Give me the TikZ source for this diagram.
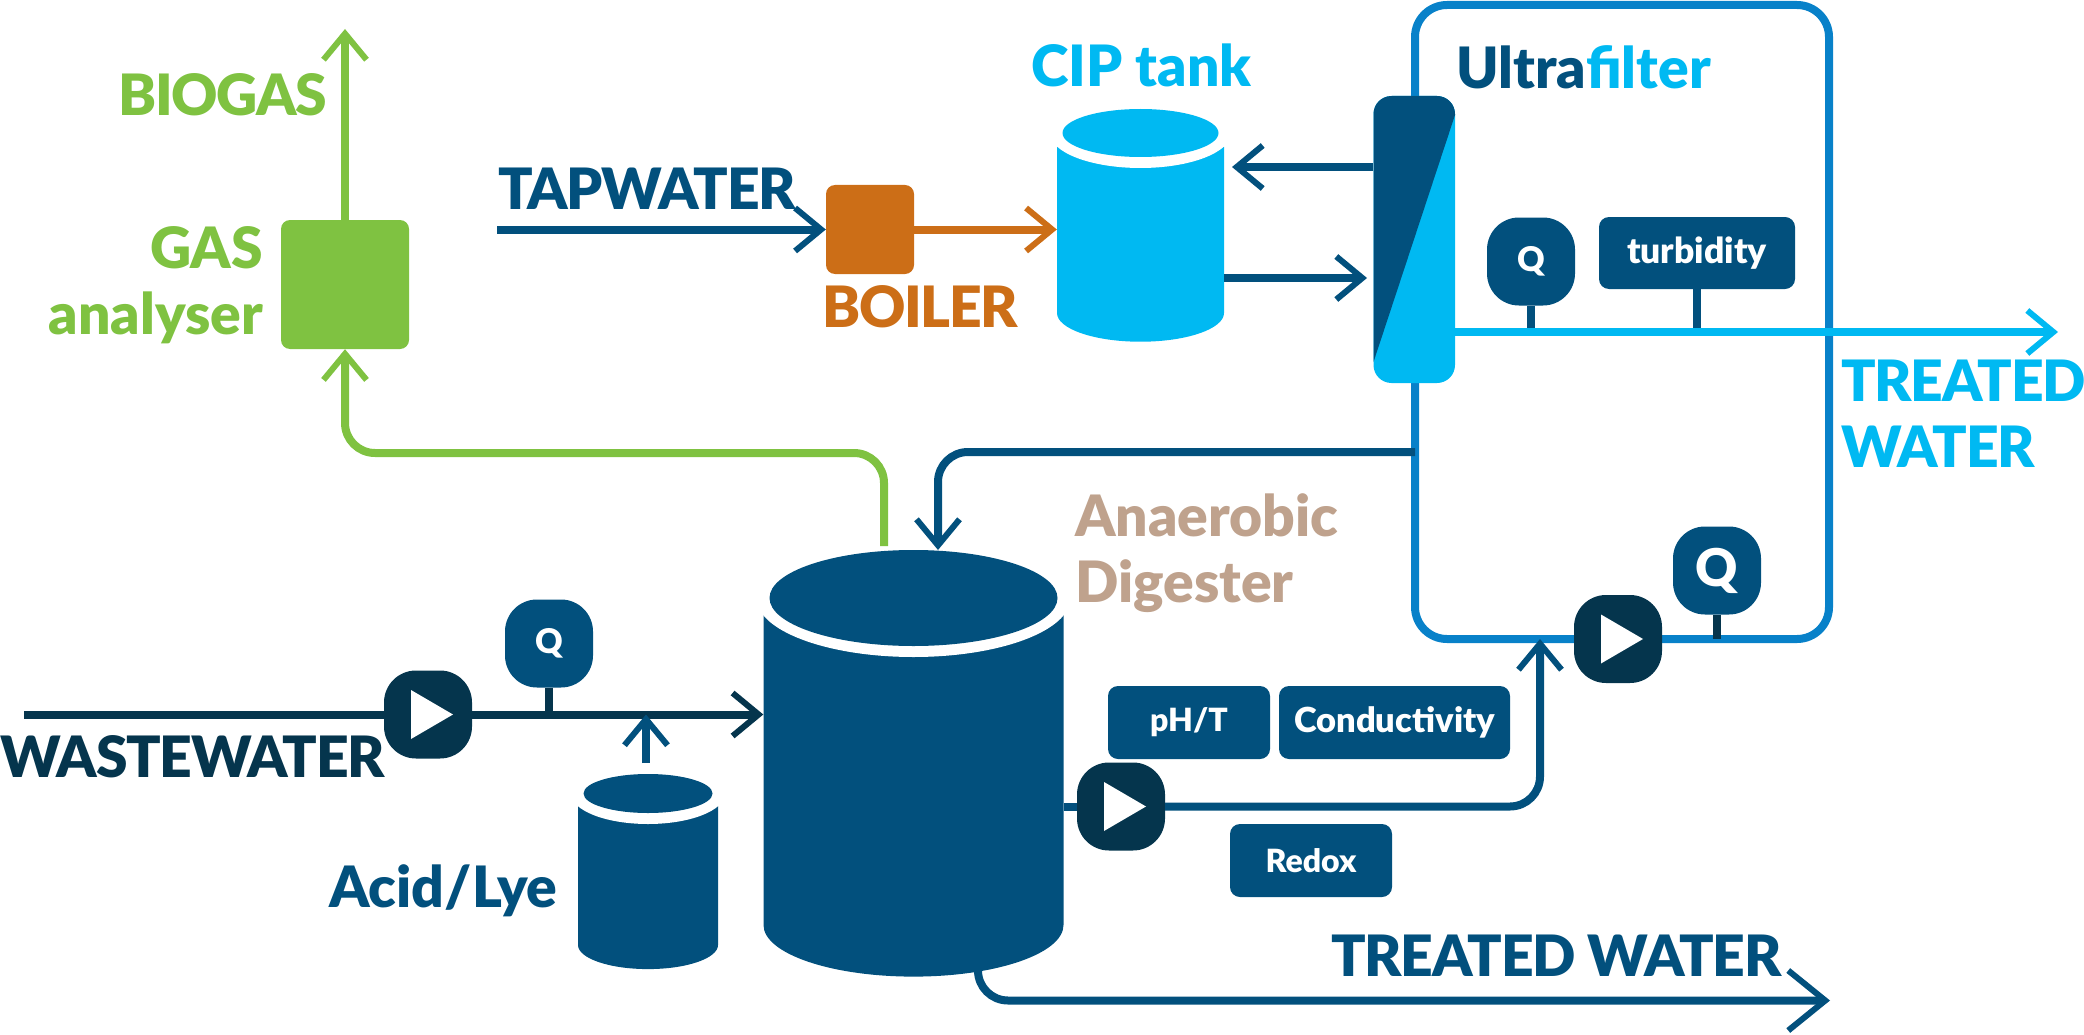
\documentclass[tikz,border=0pt]{standalone}
\usepackage{fontspec}
\setmainfont{Lato}[BoldFont={Lato Black}]
\usetikzlibrary{arrows.meta,positioning}
\definecolor{navy}{HTML}{02507D}
\definecolor{deep}{HTML}{05354D}
\definecolor{sky}{HTML}{00B9F2}
\definecolor{ufblue}{HTML}{0881C9}
\definecolor{gasgreen}{HTML}{7FC241}
\definecolor{boil}{HTML}{CC6E17}
\definecolor{sand}{HTML}{BFA28D}
\newcommand{\bigfont}{\fontsize{57}{66}\selectfont\bfseries}
\newcommand{\capsfont}{\bigfont\addfontfeature{LetterSpace=-2.2}}
\newcommand{\tagfont}{\fontsize{32}{36}\selectfont\bfseries}
% name, colour, centre x, lid y, lid rx, lid ry, half width, shoulder y, floor y
\newcommand{\tank}[9]{
  \fill[#2] (#3-#7,#8) -- (#3+#7,#8) -- (#3+#7,#9) arc[start angle=0, end angle=180, x radius=#7, y radius=0.344*#7] -- cycle;
  \fill[white] (#3,#4) ellipse[x radius=#7+7, y radius=#6+11];
  \fill[#2] (#3,#4) ellipse[x radius=#5, y radius=#6];
  \node[inner sep=0pt, minimum width=2*#7, minimum height=#9+0.344*#7-#4+#6] (#1) at (#3,{(#4-#6+#9+0.344*#7)/2}) {};
}

\begin{document}
\begin{tikzpicture}[x=1pt, y=-1pt,
  lbl/.style={inner sep=0pt, font=\bigfont},
  capslbl/.style={inner sep=0pt, font=\capsfont},
  arr/.style={-{Straight Barb[length=26pt, width=43pt, line width=6pt]}, line width=8pt},
  bigarr/.style={-{Straight Barb[length=37pt, width=60pt, line width=6pt]}, line width=8pt},
  stem/.style={line width=8pt},
  block/.style={inner sep=0pt, rounded corners=9pt, fill=#1},
  tagbox/.style={fill=navy, text=white, font=\tagfont, inner sep=0pt, rounded corners=10pt},
  flow/.style={fill=navy, text=white, font=\fontsize{34}{36}\selectfont\bfseries, inner sep=0pt,
               rounded corners=32pt, minimum width=88pt, minimum height=88pt},
  pump/.style={fill=deep, inner sep=0pt, rounded corners=32pt, minimum width=88pt, minimum height=88pt,
               path picture={\fill[white, sharp corners] (path picture bounding box.center) +(-17,-24.5) -- +(25,0) -- +(-17,24.5) -- cycle;}}
]
\useasboundingbox (0,0) rectangle (2084,1035);

\node[draw=ufblue, line width=8pt, rounded corners=32pt, inner sep=0pt, outer sep=0pt,
  minimum width=414pt, minimum height=634pt] (ufbox) at (1622,322) {};

\node[block=gasgreen, minimum width=128pt, minimum height=129pt] (gas) at (345,284.5) {};
\node[block=boil, minimum width=88pt, minimum height=89pt] (boiler) at (870,229.5) {};
\tank{cip}{sky}{1140.5}{133}{78}{24}{83.5}{147}{313}
\tank{dig}{navy}{913.5}{598}{144}{48}{150}{614}{925}
\tank{acid}{navy}{648}{793.5}{64.5}{19.5}{70}{806}{945}

\node[fill=sky, inner sep=0pt, rounded corners=18pt, minimum width=81.5pt, minimum height=287pt,
  path picture={\fill[navy, sharp corners] (path picture bounding box.north west) -- (path picture bounding box.north east)
    -- ([yshift=-19pt]path picture bounding box.north east) -- ([yshift=21pt]path picture bounding box.south west) -- cycle;}]
  (uf) at (1414.25,239.5) {};

\node[pump] (pumpa) at (428,714.5) {};
\node[pump] (pumpb) at (1121,806.5) {};
\node[pump] (pumpc) at (1618,639) {};
\node[flow] (qa) at (549,643.5) {Q};
\node[flow] (qb) at (1531,261.5) {Q};
\node[flow, font=\fontsize{52}{54}\selectfont\bfseries] (qc) at (1717,570.5) {Q};
\node[tagbox, font=\fontsize{35.5}{36}\selectfont\bfseries, minimum width=196pt, minimum height=72pt] (turb) at (1697,253) {turbidity};
\node[tagbox, minimum width=162pt, minimum height=73pt] (ph) at (1189,722.5) {pH/T};
\node[tagbox, font=\fontsize{34.5}{36}\selectfont\bfseries, minimum width=231pt, minimum height=73pt] (cond) at (1394.5,722.5) {Conductivity};
\node[tagbox, minimum width=162pt, minimum height=73pt] (redox) at (1311,860.5) {Redox};

\node[capslbl, anchor=base west, text=gasgreen] (biogas) at (118,116) {BIOGAS};
\node[lbl, anchor=north east, align=right, text=gasgreen] (gaslbl) at (263,226) {GAS\\analyser};
\node[capslbl, anchor=base west, text=navy] (taplbl) at (498,209) {TAPWATER};
\node[capslbl, anchor=base west, text=boil] (boillbl) at (822,327) {BOILER};
\node[lbl, anchor=base west, text=sky] (ciplbl) at (1031,87) {CIP tank};
\node[lbl, anchor=base west, text=navy] (uflbl) at (1456,89) {Ultra\textcolor{sky}{filter}};
\node[capslbl, anchor=north west, align=left, text=sky] (treatlbl) at (1841,360) {TREATED\\WATER};
\node[lbl, anchor=north west, align=left, text=sand] (diglbl) at (1075,493) {Anaerobic\\Digester};
\node[capslbl, anchor=base west, text=deep] (wwlbl) at (0,777) {WASTEWATER};
\node[lbl, anchor=base west, text=navy] (acidlbl) at (329,907) {Acid/Lye};
\node[capslbl, anchor=base west, text=navy] (outlbl) at (1331,976.5) {TREATED WATER};

\coordinate (biogasend) at (345,29);
\coordinate (tapin) at (497,229.5);
\coordinate (treatedend) at (2058,332);
\coordinate (recycle) at (1415,452);
\coordinate (digin) at (938,550);
\coordinate (gasfrom) at (884,546);
\coordinate (gasturn) at (600,453);
\coordinate (wwin) at (24,714.5);
\coordinate (acidtop) at (646,763);
\coordinate (acidtip) at (646,714.5);
\coordinate (ufin) at (1540,639);
\coordinate (digfoot) at (978,965);
\coordinate (outend) at (1830,1000.5);

\draw[arr, gasgreen] (gas.north) -- (biogasend);
\draw[arr, gasgreen, rounded corners=30pt] (gasfrom) |- (gasturn) -| (gas.south);
\draw[arr, navy] (tapin) -- (boiler.west);
\draw[arr, boil] (boiler.east) -- (boiler.east -| cip.west);
\draw[arr, navy] (uf.west |- 0,167) -- (1232,167);
\draw[arr, navy] (cip.east |- 0,278) -- (1367,278);
\draw[stem, navy] (qb.south) -- (qb.south |- treatedend);
\draw[stem, navy] (turb.south) -- (turb.south |- treatedend);
\draw[arr, sky] (uf.east |- treatedend) -- (treatedend);
\draw[arr, navy, rounded corners=30pt] (recycle) -| (digin);
\draw[stem, deep] (qc.south) -- (qc.south |- pumpc);
\draw[line width=8pt, deep] (wwin) -- (pumpa.west);
\draw[arr, deep] (pumpa.east) -- (pumpa.east -| dig.west);
\draw[stem, deep] (qa.south) -- (qa.south |- pumpa);
\draw[arr, navy] (acidtop) -- (acidtip);
\draw[line width=8pt, navy] (dig.east |- pumpb) -- (pumpb.west);
\draw[arr, navy, rounded corners=30pt] (pumpb.east) -| (ufin);
\draw[bigarr, navy, rounded corners=30pt] (digfoot) |- (outend);
\end{tikzpicture}
\end{document}
